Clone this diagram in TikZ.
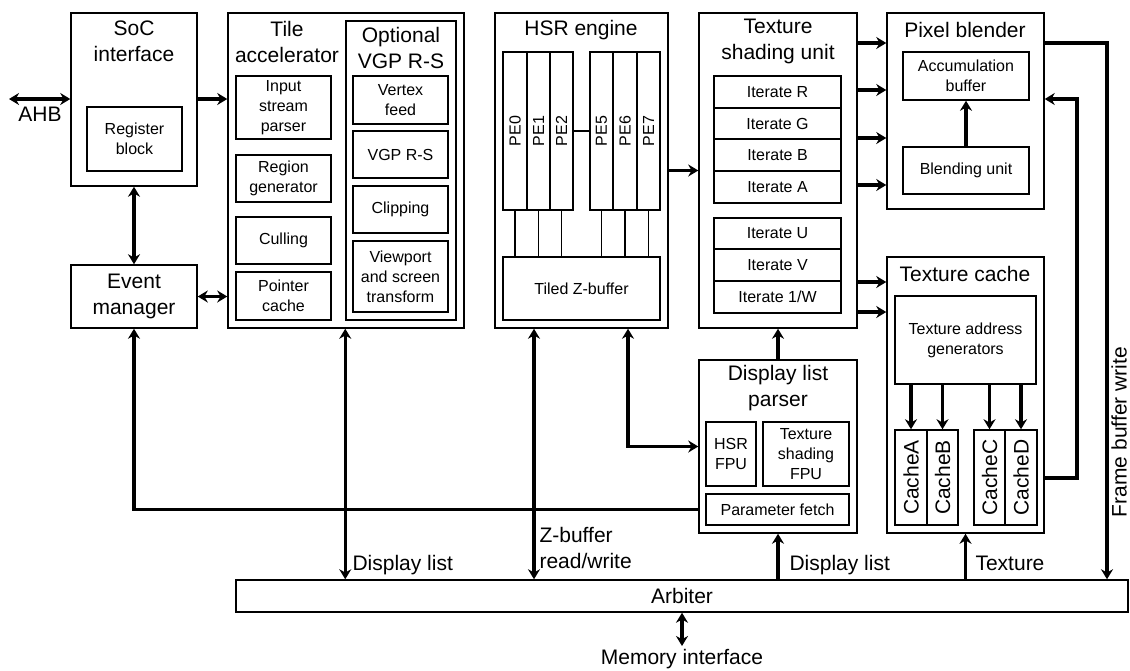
\documentclass[tikz,border=0pt]{standalone}
\usepackage{fontspec}
\setmainfont{Liberation Sans}
\usetikzlibrary{arrows.meta,fit}
\begin{document}
\begin{tikzpicture}[x=1pt,y=-1pt,>={Stealth[length=10pt,width=12pt]},
  blk/.style={draw,line width=1.5pt,inner sep=0pt},
  ttl/.style={align=center,font=\fontsize{21}{26}\selectfont},
  txt/.style={align=center,font=\fontsize{16}{20}\selectfont},
  arr/.style={line width=3.5pt},
  wire/.style={line width=1.5pt}]
 \useasboundingbox (0,0) rectangle (1130,670);
 \node[blk,fit={(71,13)(197,186)}] (soc) {};
 \node[blk,fit={(71,265)(197,328)},label={[ttl]center:{Event\\manager}}] (evm) {};
 \node[blk,fit={(228,13)(464,328)}] (tile) {};
 \node[blk,fit={(346,21)(456,320)}] (vgp) {};
 \node[blk,fit={(495,13)(668,328)}] (hsr) {};
 \node[blk,fit={(699,13)(857,328)}] (tsu) {};
 \node[blk,fit={(699,360)(857,533)}] (dlp) {};
 \node[blk,fit={(887,13)(1044,209)}] (pb) {};
 \node[blk,fit={(887,257)(1044,533)}] (tc) {};
 \node[blk,fit={(236,580)(1128,612)},label={[ttl]center:Arbiter}] (arb) {};
 \node[ttl] (soct) at (134,41) {SoC\\interface};
 \node[ttl] (tilet) at (287,42) {Tile\\accelerator};
 \node[ttl] (vgpt) at (401,48) {Optional\\VGP R-S};
 \node[ttl] (hsrt) at (581,30) {HSR engine};
 \node[ttl] (tsut) at (778,41) {Texture\\shading unit};
 \node[ttl] (dlpt) at (778,388) {Display list\\parser};
 \node[ttl] (pbt) at (965,30) {Pixel blender};
 \node[ttl] (tct) at (965,274) {Texture cache};
 \node[blk,fit={(87,107)(182,171)},label={[txt]center:{Register\\block}}] (reg) {};
 \node[blk,fit={(236,76)(331,139)},label={[txt]center:{Input\\stream\\parser}}] (isp) {};
 \node[blk,fit={(236,155)(331,202)},label={[txt]center:{Region\\generator}}] (rgn) {};
 \node[blk,fit={(236,217)(331,264)},label={[txt]center:Culling}] (cul) {};
 \node[blk,fit={(236,272)(331,320)},label={[txt]center:{Pointer\\cache}}] (ptr) {};
 \node[blk,fit={(353,76)(448,124)},label={[txt]center:{Vertex\\feed}}] (vtx) {};
 \node[blk,fit={(353,131)(448,178)},label={[txt]center:VGP R-S}] (vrs) {};
 \node[blk,fit={(353,186)(448,233)},label={[txt]center:Clipping}] (clp) {};
 \node[blk,fit={(353,241)(448,312)},label={[txt]center:{Viewport\\and screen\\transform}}] (vps) {};
 \foreach \n/\a/\b/\l in {pe0/503/527/PE0,pe1/527/550/PE1,pe2/550/573/PE2,
                          pe5/590/613/PE5,pe6/613/637/PE6,pe7/637/660/PE7}{
   \node[blk,fit={(\a,52)(\b,210)}] (\n) {};
   \node[txt,rotate=90] (\n-l) at (\n.center) {\l};
 }
 \node[blk,fit={(503,257)(660,320)},label={[txt]center:Tiled Z-buffer}] (zbuf) {};
 \draw[wire] (pe2) -- (pe5);
 \foreach \n in {pe0,pe1,pe2,pe5,pe6,pe7} \draw[wire] (\n.south) -- (zbuf.north -| \n);
 \foreach \n/\a/\b/\l in {itr/76/108/R,itg/108/139/G,itb/139/171/B,ita/171/203/A,
                          itu/218/249/U,itv/249/281/V,itw/281/313/{1/W}}
   \node[blk,fit={(714,\a)(841,\b)},label={[txt]center:Iterate \l}] (\n) {};
 \node[blk,fit={(706,422)(756,486)},label={[txt]center:{HSR\\FPU}}] (hfpu) {};
 \node[blk,fit={(763,422)(849,486)},label={[txt]center:{Texture\\shading\\FPU}}] (tfpu) {};
 \node[blk,fit={(706,494)(849,525)},label={[txt]center:Parameter fetch}] (pfet) {};
 \node[blk,fit={(903,52)(1029,100)},label={[txt]center:{Accumulation\\buffer}}] (acc) {};
 \node[blk,fit={(903,147)(1029,194)},label={[txt]center:Blending unit}] (bld) {};
 \node[blk,fit={(895,296)(1036,384)},label={[txt]center:{Texture address\\generators}}] (tag) {};
 \foreach \n/\a/\b/\l in {ca/895/927/CacheA,cb/927/958/CacheB,
                          cc/974/1005/CacheC,cd/1005/1037/CacheD}{
   \node[blk,fit={(\a,430)(\b,525)}] (\n) {};
   \node[ttl,rotate=90] (\n-l) at (\n.center) {\l};
 }
 \coordinate (ahb) at (9,99);
 \draw[arr,<->] (ahb) -- (soc.west |- ahb);
 \node[ttl] (ahbt) at (40,114) {AHB};
 \draw[arr,->] (soc.east |- ahb) -- (tile.west |- ahb);
 \draw[arr,<->] (soc.south) -- (evm.north);
 \draw[arr,<->] (evm.east) -- (tile.west |- evm.east);
 \draw[arr,->] (dlp.west |- pfet) -| (evm.south);
 \draw[arr,<->] (vgp.west |- tile.south) -- (vgp.west |- arb.north);
 \node[ttl,anchor=west] (dl1) at (349,565) {Display list};
 \draw[arr,<->] (hsr.south -| 534,0) -- (arb.north -| 534,0);
 \node[ttl,anchor=west,align=left] (zbt) at (536,548) {Z-buffer\\read/write};
 \draw[arr,<->] (hsr.south -| 628,0) |- (dlp.west);
 \draw[arr,->] (hsr.east) -- (tsu.west);
 \foreach \y in {43,90,138,185} \draw[arr,->] (tsu.east |- 0,\y) -- (pb.west |- 0,\y);
 \foreach \y in {282,312} \draw[arr,->] (tsu.east |- 0,\y) -- (tc.west |- 0,\y);
 \draw[arr,->] (dlp.north) -- (tsu.south);
 \draw[arr,->] (arb.north -| dlp.south) -- (dlp.south);
 \node[ttl,anchor=west] (dl2) at (786,565) {Display list};
 \draw[arr,->] (arb.north -| tc.south) -- (tc.south);
 \node[ttl,anchor=west] (texl) at (972,563) {Texture};
 \draw[arr,->] (bld.north) -- (acc.south);
 \draw[arr,->] (pb.east |- 0,43) -| (arb.north -| 1107,0);
 \node[ttl,rotate=90,inner sep=1pt] (fbw) at (1119,432) {Frame buffer write};
 \coordinate (ret) at (1077,99);
 \draw[arr,->] (tc.east |- 0,478) -| (ret) -- (pb.east |- ret);
 \foreach \c in {ca,cb,cc,cd} \draw[arr,->] (tag.south -| \c) -- (\c.north);
 \node[ttl,anchor=north] (mem) at (682,646) {Memory interface};
 \draw[arr,<->] (arb.south) -- (mem.north);
\end{tikzpicture}
\end{document}
